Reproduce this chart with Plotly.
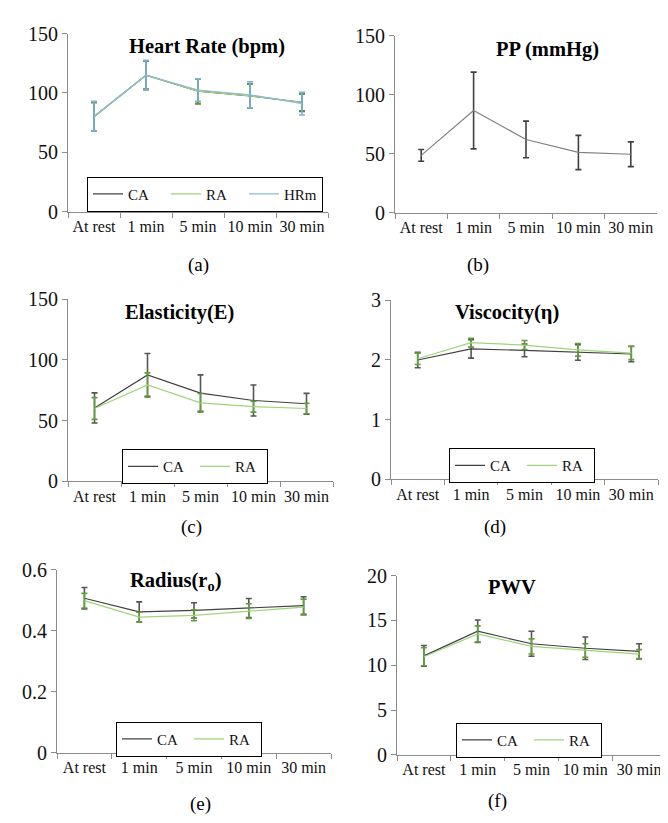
import plotly.graph_objects as go

W, H = 668, 823

categories = ["At rest", "1 min", "5 min", "10 min", "30 min"]

# (a) Heart Rate (bpm)
hr_ca = [80, 115, 101.5, 97.5, 92]
hr_ca_err = [12, 12, 10.5, 10, 7.5]
hr_ra = [80, 115, 101.5, 97.5, 92]
hr_ra_err = [12, 12, 10.5, 10, 7]
hr_hrm = [80.5, 115, 102.5, 98.5, 91]
hr_hrm_err = [12.5, 12.5, 9.5, 11, 9.5]

# (b) PP (mmHg)
pp = [48.5, 86.5, 62, 51, 49.5]
pp_err = [5, 32.5, 15.5, 14.5, 10.5]

# (c) Elasticity(E)
e_ca = [60.5, 87.7, 72.7, 66.6, 63.9]
e_ca_err = [12.4, 17.6, 15, 12.8, 8.6]
e_ra = [60, 79.4, 64.7, 61.5, 60]
e_ra_err = [9, 10, 7.7, 4.5, 4.3]

# (d) Viscocity(eta)
v_ca = [2.0, 2.185, 2.16, 2.125, 2.1]
v_ca_err = [0.13, 0.155, 0.105, 0.13, 0.13]
v_ra = [2.02, 2.29, 2.25, 2.17, 2.115]
v_ra_err = [0.095, 0.075, 0.075, 0.105, 0.11]

# (e) Radius(r_o)
r_ca = [0.507, 0.462, 0.467, 0.475, 0.483]
r_ca_err = [0.035, 0.033, 0.025, 0.031, 0.029]
r_ra = [0.499, 0.445, 0.451, 0.465, 0.478]
r_ra_err = [0.024, 0.016, 0.018, 0.024, 0.026]

# (f) PWV
p_ca = [11.05, 13.8, 12.4, 11.9, 11.55]
p_ca_err = [1.15, 1.25, 1.4, 1.25, 0.85]
p_ra = [10.95, 13.5, 12.1, 11.65, 11.25]
p_ra_err = [1.0, 0.9, 0.85, 0.75, 0.5]

FONT = "Liberation Serif"
CA_LINE = "#404040"
CA_ERR = "#555555"
RA_LINE = "#9fd47a"
RA_ERR = "#5e9e3c"
HRM_LINE = "#8fb9dc"
HRM_ERR = "#7fb0d8"
AXIS = "#8c8c8c"

fig = go.Figure()

def px_x(x):
    return x / W

def px_y(y):
    return 1 - y / H

panels = [
    dict(x0=60, x1=320, yt=15, yb=198, ymax=150, dtick=50,
         title="<b>Heart Rate (bpm)</b>", tx=199, ty=28, lab="(a)", lx=190, ly=253),
    dict(x0=387, x1=649, yt=17, yb=199, ymax=150, dtick=50,
         title="<b>PP (mmHg)</b>", tx=539, ty=31, lab="(b)", lx=470, ly=253),
    dict(x0=60, x1=325, yt=288, yb=475, ymax=150, dtick=50,
         title="<b>Elasticity(E)</b>", tx=172, ty=302, lab="(c)", lx=183, ly=522),
    dict(x0=383, x1=650, yt=289, yb=473, ymax=3, dtick=1,
         title="<b>Viscocity(η)</b>", tx=499, ty=302, lab="(d)", lx=487, ly=522),
    dict(x0=49, x1=323, yt=566, yb=754, ymax=0.6, dtick=0.2,
         title="<b>Radius(r<sub>o</sub>)</b>", tx=167, ty=578, lab="(e)", lx=192, ly=807),
    dict(x0=389, x1=658, yt=572, yb=756, ymax=20, dtick=5,
         title="<b>PWV</b>", tx=504, ty=584, lab="(f)", lx=490, ly=803),
]

series = [
    [("CA", hr_ca, hr_ca_err, CA_LINE, CA_ERR),
     ("RA", hr_ra, hr_ra_err, RA_LINE, RA_ERR),
     ("HRm", hr_hrm, hr_hrm_err, HRM_LINE, HRM_ERR)],
    [("PP", pp, pp_err, "#808080", "#404040")],
    [("CA", e_ca, e_ca_err, CA_LINE, CA_ERR),
     ("RA", e_ra, e_ra_err, RA_LINE, RA_ERR)],
    [("CA", v_ca, v_ca_err, CA_LINE, CA_ERR),
     ("RA", v_ra, v_ra_err, RA_LINE, RA_ERR)],
    [("CA", r_ca, r_ca_err, CA_LINE, CA_ERR),
     ("RA", r_ra, r_ra_err, RA_LINE, RA_ERR)],
    [("CA", p_ca, p_ca_err, CA_LINE, CA_ERR),
     ("RA", p_ra, p_ra_err, RA_LINE, RA_ERR)],
]

legends = [
    dict(x=79, y=162, ew=33),
    None,
    dict(x=114, y=442, ew=27),
    dict(x=441, y=441, ew=27),
    dict(x=108, y=722, ew=27),
    dict(x=448, y=723, ew=27),
]

annotations = []
layout_extra = {}
for i, (p, ser) in enumerate(zip(panels, series)):
    n = i + 1
    xa = "x" if n == 1 else f"x{n}"
    ya = "y" if n == 1 else f"y{n}"
    lg = "legend" if n == 1 else f"legend{n}"
    leg = legends[i]
    for name, vals, err, lc, ec in ser:
        fig.add_trace(go.Scatter(
            x=categories, y=vals, mode="lines", name=name,
            line=dict(color=lc, width=1.2),
            error_y=dict(type="data", array=err, visible=True, color=ec,
                         thickness=1.6, width=3),
            xaxis=xa, yaxis=ya, legend=lg, showlegend=leg is not None,
        ))
    xkey = "xaxis" if n == 1 else f"xaxis{n}"
    ykey = "yaxis" if n == 1 else f"yaxis{n}"
    layout_extra[xkey] = dict(
        domain=[px_x(p["x0"]), px_x(p["x1"])], anchor=ya, type="category",
        range=[-0.5, 4.5], tickson="boundaries", ticks="outside", ticklen=5,
        tickcolor=AXIS, showline=True, linecolor=AXIS, linewidth=1.2,
        showgrid=False, zeroline=False, tickangle=0,
        tickfont=dict(family=FONT, size=16, color="#111"),
    )
    layout_extra[ykey] = dict(
        domain=[px_y(p["yb"]), px_y(p["yt"])], anchor=xa,
        range=[0, p["ymax"]], dtick=p["dtick"], tick0=0, ticks="outside",
        ticklen=5, tickcolor=AXIS, showline=True, linecolor=AXIS, linewidth=1.2,
        showgrid=False, zeroline=False,
        tickfont=dict(family=FONT, size=20, color="#111"),
    )
    if leg is not None:
        layout_extra[lg] = dict(
            x=px_x(leg["x"]), y=px_y(leg["y"]), xanchor="left", yanchor="top",
            orientation="h", bgcolor="white", bordercolor="#000", borderwidth=1,
            font=dict(family=FONT, size=15, color="#111"),
            entrywidth=leg["ew"], entrywidthmode="pixels",
            itemwidth=30, visible=True,
        )
    annotations.append(dict(
        text=p["title"], x=px_x(p["tx"]), y=px_y(p["ty"]), xref="paper", yref="paper",
        showarrow=False, xanchor="center", yanchor="middle",
        font=dict(family=FONT, size=20.5, color="#000"),
    ))
    annotations.append(dict(
        text=p["lab"], x=px_x(p["lx"]), y=px_y(p["ly"]), xref="paper", yref="paper",
        showarrow=False, xanchor="center", yanchor="middle",
        font=dict(family=FONT, size=19, color="#000"),
    ))

fig.update_layout(
    width=W, height=H, margin=dict(l=0, r=0, t=0, b=0),
    paper_bgcolor="white", plot_bgcolor="white", showlegend=True,
    annotations=annotations, **layout_extra,
)

fig.write_html("out.html")
